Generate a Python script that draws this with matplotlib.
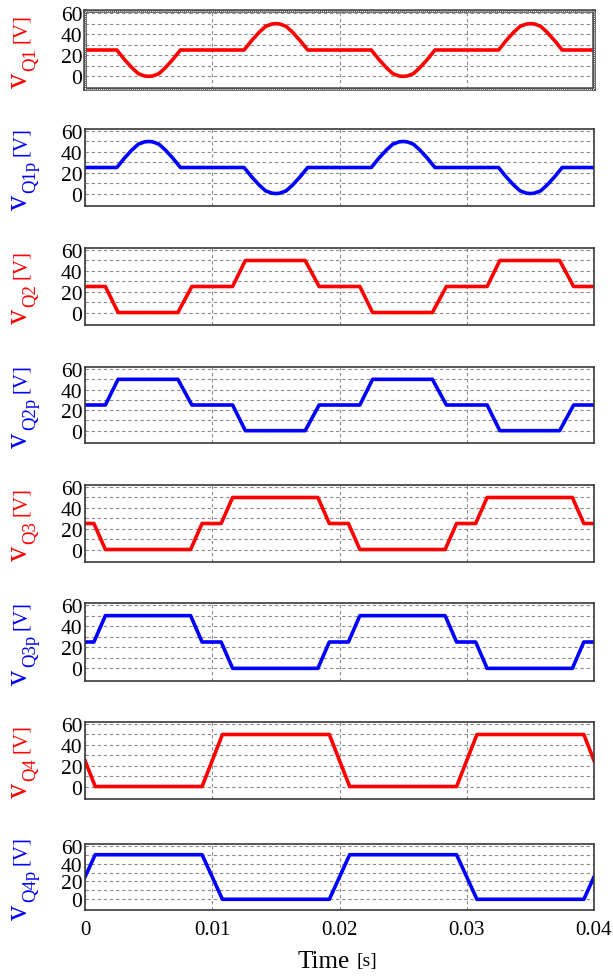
import matplotlib.pyplot as plt
from matplotlib.patches import Rectangle
from matplotlib.transforms import IdentityTransform

# time axis limits [s]
t_end = 0.04

# Q1 / Q1p : flat 25 V with rounded bumps (profile)
bump_dt = [-0.0025, -0.0019, -0.0013, -0.0008, -0.0003, 0.0, 0.0003, 0.0008, 0.0013, 0.0019, 0.0025]
bump_dv = [0, 9, 17, 22.5, 24.7, 25, 24.7, 22.5, 17, 9, 0]
bump_centers = [0.005, 0.015, 0.025, 0.035]
q1_signs = [-1, 1, -1, 1]
q1p_signs = [1, -1, 1, -1]

# Q2 / Q2p
q2_t = [0, 0.0016, 0.0026, 0.0073, 0.0084, 0.0116, 0.0126, 0.0173, 0.0184,
        0.0216, 0.0226, 0.0273, 0.0284, 0.0316, 0.0326, 0.0373, 0.0384, 0.04]
q2_v = [25, 25, 0, 0, 25, 25, 50, 50, 25, 25, 0, 0, 25, 25, 50, 50, 25, 25]
q2p_v = [25, 25, 50, 50, 25, 25, 0, 0, 25, 25, 50, 50, 25, 25, 0, 0, 25, 25]

# Q3 / Q3p
q3_t = [0, 0.0007, 0.0016, 0.0083, 0.0092, 0.0107, 0.0116, 0.0183, 0.0192,
        0.0207, 0.0216, 0.0283, 0.0292, 0.0307, 0.0316, 0.0383, 0.0392, 0.04]
q3_v = [25, 25, 0, 0, 25, 25, 50, 50, 25, 25, 0, 0, 25, 25, 50, 50, 25, 25]
q3p_v = [25, 25, 50, 50, 25, 25, 0, 0, 25, 25, 50, 50, 25, 25, 0, 0, 25, 25]

# Q4 / Q4p
q4_t = [0, 0.0008, 0.0092, 0.0108, 0.0192, 0.0208, 0.0292, 0.0308, 0.0392, 0.04]
q4_v = [25, 0, 0, 50, 50, 0, 0, 50, 50, 25]
q4p_v = [25, 50, 50, 0, 0, 50, 50, 0, 0, 25]

x_ticks = [0, 0.01, 0.02, 0.03, 0.04]
x_ticklabels = ['0', '0.01', '0.02', '0.03', '0.04']
y_ticks = [0, 20, 40, 60]


def bump_wave(signs):
    t = [0.0]
    v = [25.0]
    for c, s in zip(bump_centers, signs):
        for dt, dv in zip(bump_dt, bump_dv):
            t.append(c + dt)
            v.append(25 + s * dv)
    t.append(t_end)
    v.append(25.0)
    return t, v


q1_t, q1_v = bump_wave(q1_signs)
q1p_t, q1p_v = bump_wave(q1p_signs)

signals = [
    ('Q1', q1_t, q1_v, 'red'),
    ('Q1p', q1p_t, q1p_v, 'blue'),
    ('Q2', q2_t, q2_v, 'red'),
    ('Q2p', q2_t, q2p_v, 'blue'),
    ('Q3', q3_t, q3_v, 'red'),
    ('Q3p', q3_t, q3p_v, 'blue'),
    ('Q4', q4_t, q4_v, 'red'),
    ('Q4p', q4_t, q4p_v, 'blue'),
]

# panel top/bottom in pixels (figure is 613 x 979)
W, H = 613, 979
panel_px = [(12, 90), (130, 207), (249, 326), (368, 444),
            (486, 563), (604, 682), (723, 800), (845, 911)]
left_px, right_px = 85, 594

plt.rcParams['font.family'] = ['Liberation Serif', 'DejaVu Serif']

fig = plt.figure(figsize=(W / 100, H / 100), dpi=100)
label_parts = []

for i, (name, t, v, col) in enumerate(signals):
    top, bot = panel_px[i]
    ax = fig.add_axes([left_px / W, 1 - bot / H, (right_px - left_px) / W, (bot - top) / H])
    ax.plot(t, v, color=col, lw=2.6, solid_joinstyle='round')
    ax.set_xlim(0, t_end)
    ax.set_ylim(-12, 62)
    ax.set_yticks(y_ticks)
    ax.set_yticks([10, 30, 50], minor=True)
    ax.set_xticks(x_ticks)
    ax.grid(True, which='both', color='#8c8c8c', ls=(0, (3, 2.5)), lw=0.8)
    ax.tick_params(which='both', length=0, labelsize=15.5, pad=2)
    if i < len(signals) - 1:
        ax.set_xticklabels([])
    else:
        ax.set_xticklabels(x_ticklabels, fontsize=15)
        ax.tick_params(axis='x', pad=7)
    for sp in ax.spines.values():
        sp.set_color('#3a3a3a')
        sp.set_linewidth(1.2)
    if i == 0:
        for sp in ax.spines.values():
            sp.set_linewidth(2.6)
            sp.set_color('#505050')
        ax.add_patch(Rectangle((0, 0), 1, 1, transform=ax.transAxes, fill=False,
                               ec='white', lw=0.7, ls=(0, (1, 1)), clip_on=False, zorder=5))

    # y label pieces: big "v", subscript name, smaller "[V]"
    kw = dict(transform=IdentityTransform(), rotation=90, rotation_mode='anchor',
              ha='left', va='baseline', color=col)
    pv = fig.text(27, 0, 'v', fontsize=22, **kw)
    ps = fig.text(35, 0, name, fontsize=13.5, **kw)
    pu = fig.text(26, 0, '[V]', fontsize=15, **kw)
    label_parts.append(((top + bot) / 2, pv, ps, pu))

# lay the label pieces out along each panel, centred on it
fig.canvas.draw()
rend = fig.canvas.get_renderer()
for center, pv, ps, pu in label_parts:
    hv = pv.get_window_extent(rend).height
    hs = ps.get_window_extent(rend).height
    hu = pu.get_window_extent(rend).height
    gap1, gap2 = 2, 5
    total = hv + gap1 + hs + gap2 + hu
    y0 = (H - center) - total / 2
    pv.set_position((27, y0))
    ps.set_position((35, y0 + hv + gap1))
    pu.set_position((26, y0 + hv + gap1 + hs + gap2))

fig.text(350 / W, 1 - 962 / H, 'Time', fontsize=18, ha='right', va='center')
fig.text(356 / W, 1 - 962 / H, '[s]', fontsize=14, ha='left', va='center')

fig.savefig('out.png', dpi=100)
